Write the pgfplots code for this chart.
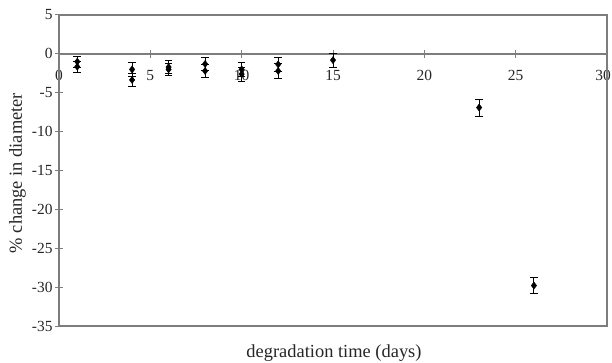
\documentclass[border=0pt]{standalone}
\usepackage{fontspec}
\setmainfont{Liberation Serif}
\usepackage{pgfplots}
\usepackage{pgfplotstable}
\pgfplotsset{compat=1.18}
\definecolor{axgray}{RGB}{125,125,125}
\pgfplotstableread{
x y e
1 -1.0 0.7
1 -1.65 0.7
4 -2.0 0.9
4 -3.35 0.8
6 -1.7 0.8
6 -2.0 0.8
8 -1.3 0.8
8 -2.2 0.8
10 -2.0 0.9
10 -2.6 0.9
12 -1.35 0.9
12 -2.2 1.0
15 -0.8 0.9
23 -6.9 1.1
26 -29.8 1.0
}\datatable
\begin{document}
\begin{tikzpicture}
\useasboundingbox (0,0) rectangle (612bp,363bp);
\begin{axis}[
  at={(59bp,37bp)}, anchor=south west,
  scale only axis, width=548bp, height=311bp,
  xmin=0, xmax=30, ymin=-35, ymax=5,
  axis x line=middle, axis y line=left,
  axis line style={-, axgray, line width=1.3pt},
  xtick={0,5,...,25}, ytick={-35,-30,...,5},
  extra x ticks={30},
  extra x tick style={xticklabel style={xshift=-4bp}},
  tick align=center, major tick length=8bp,
  tick style={axgray, line width=1pt},
  hide obscured x ticks=false, hide obscured y ticks=false,
  /pgf/number format/assume math mode=true,
  ticklabel style={font=\fontsize{15.5}{17}\selectfont, text=black!85},
  xticklabel style={anchor=north, yshift=-9bp},
  yticklabel style={anchor=east, xshift=1bp},
  clip=false,
]
\addplot+[only marks, mark=diamond*, black, mark size=3.6pt,
  mark options={black, fill=black},
  error bars/.cd, y dir=both, y explicit,
  error bar style={black, line width=0.9pt},
  error mark=-,
  error mark options={rotate=90, black, mark size=3.8bp, line width=0.9pt}]
  table[x=x, y=y, y error=e] {\datatable};
\draw[axgray, line width=1.3pt] (rel axis cs:0,0) rectangle (rel axis cs:1,1);
\end{axis}
\node[font=\fontsize{18.5}{21}\selectfont, text=black!85] at (334bp,10bp) {degradation time (days)};
\node[font=\fontsize{18.5}{21}\selectfont, text=black!85, rotate=90] at (17.5bp,190bp) {\% change in diameter};
\end{tikzpicture}
\end{document}
